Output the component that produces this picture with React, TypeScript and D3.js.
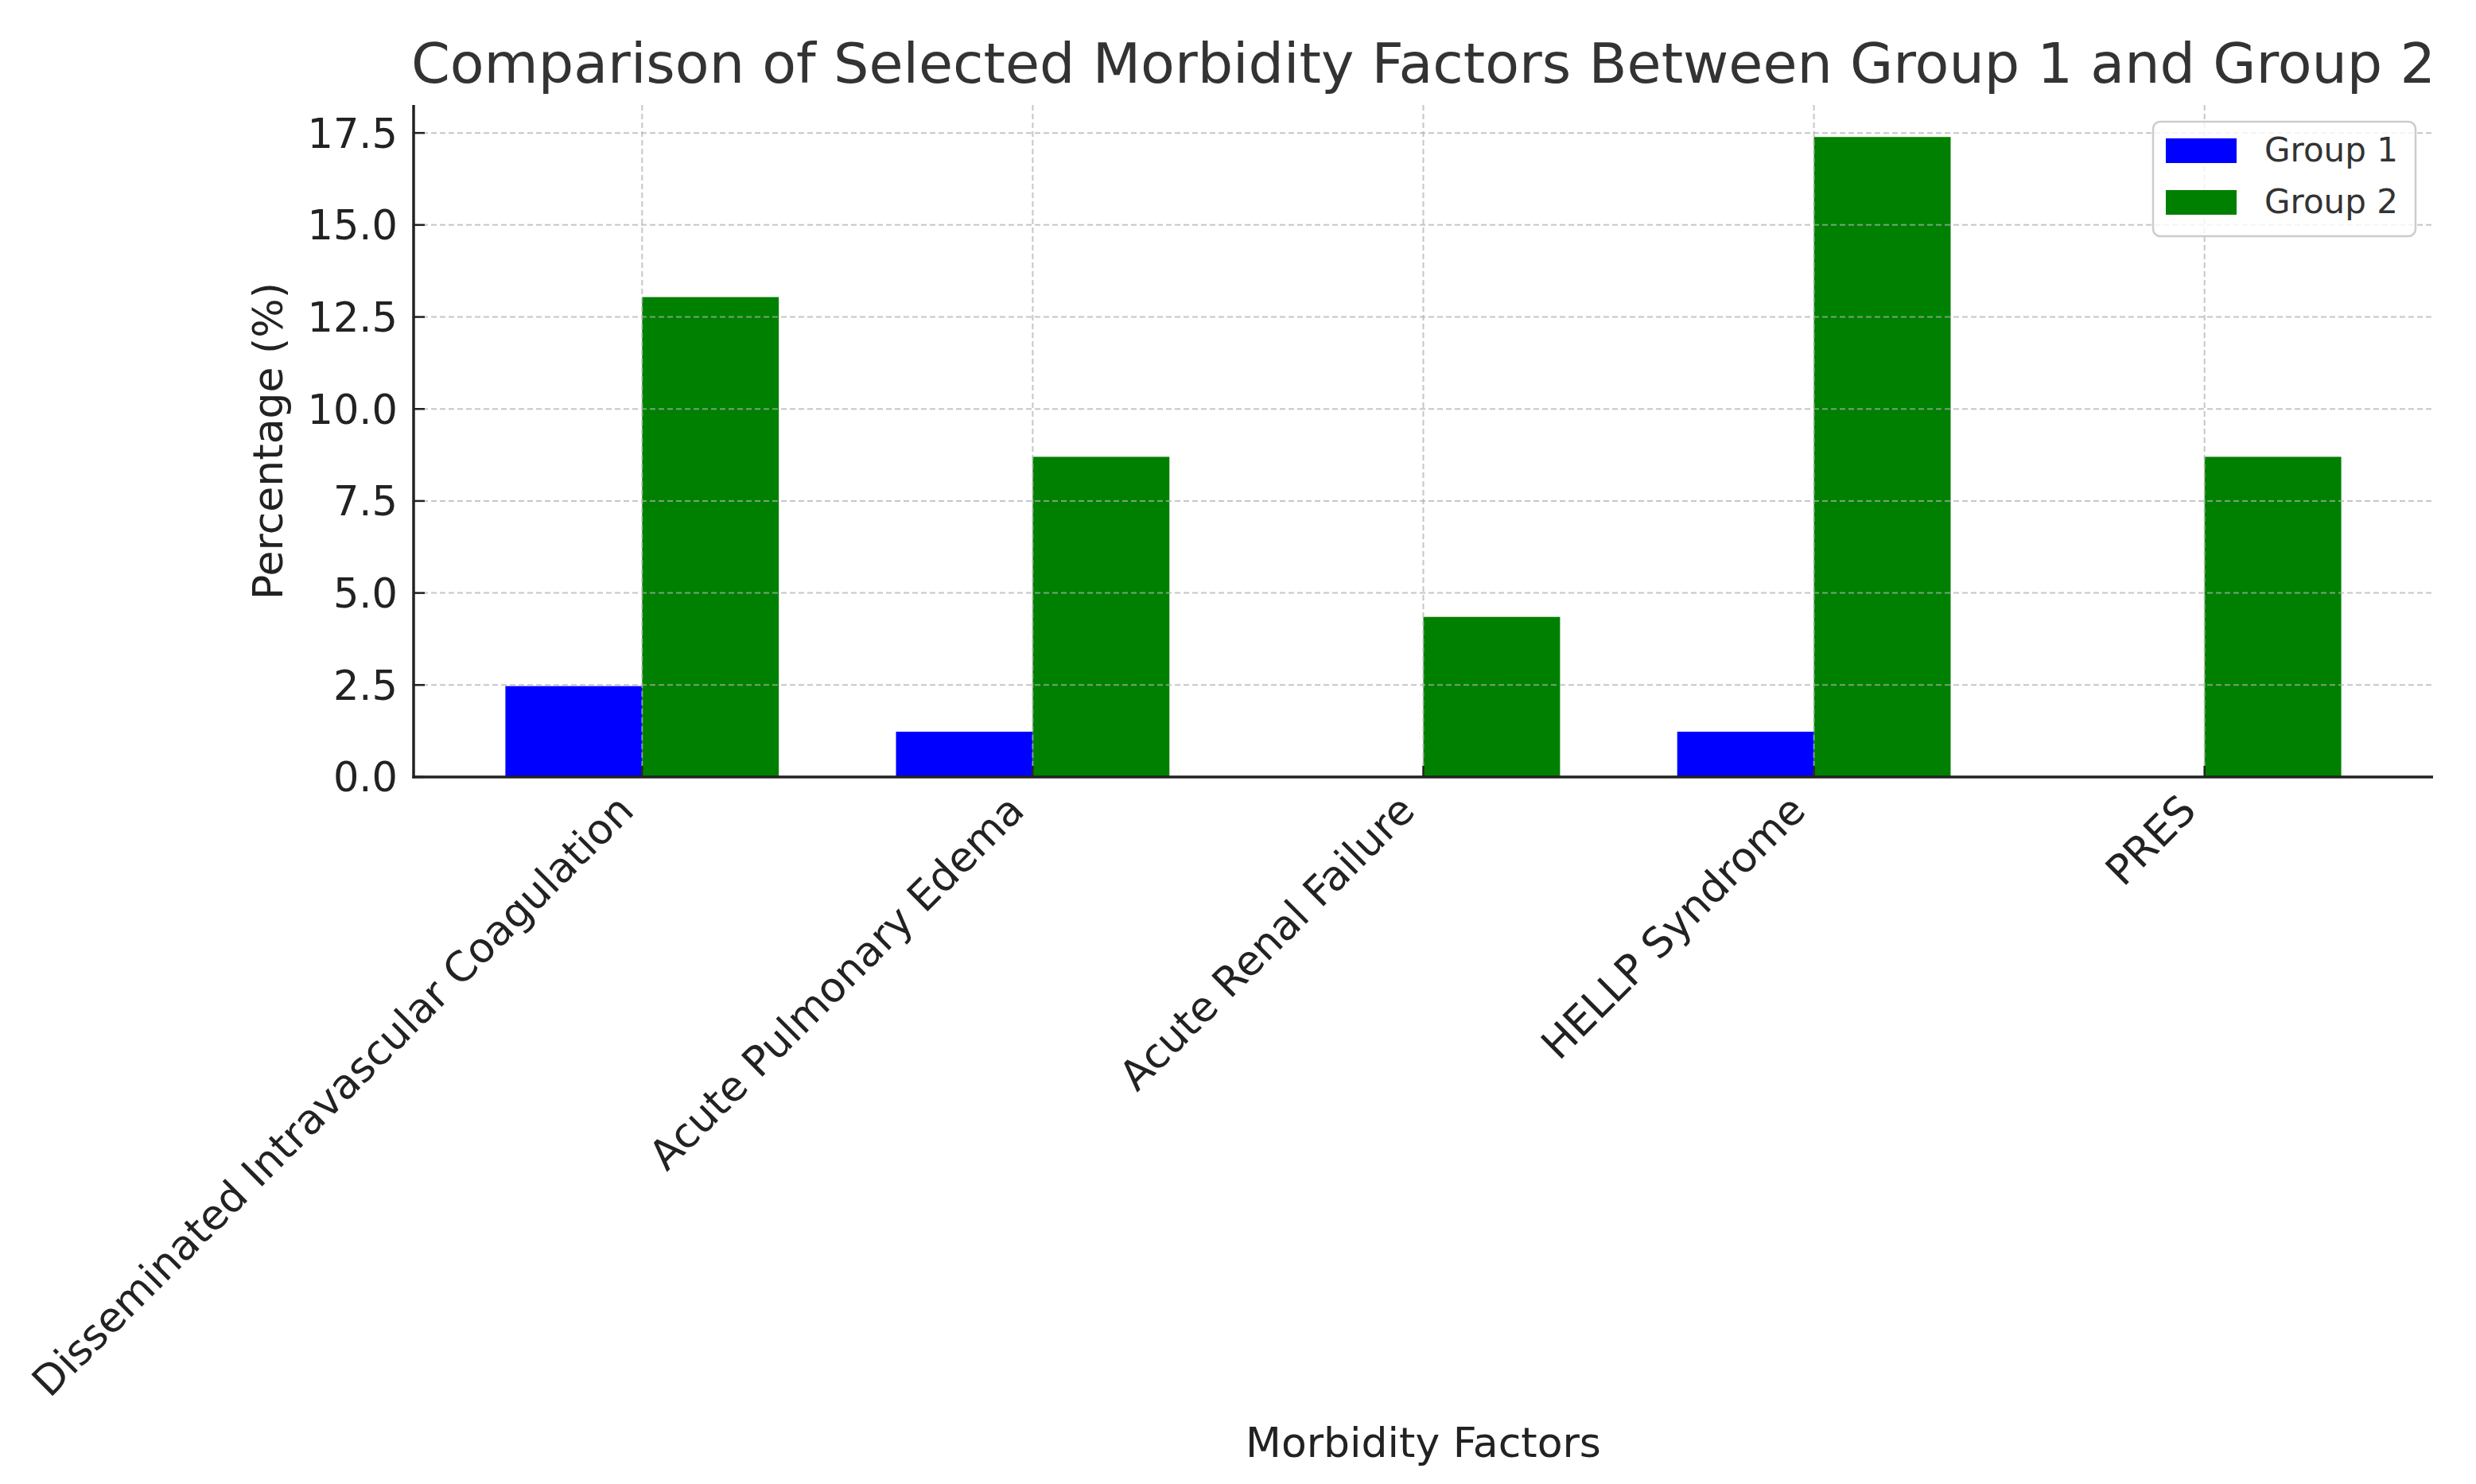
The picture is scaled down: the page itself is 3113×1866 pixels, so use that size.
import React, { useEffect } from "react";
import * as d3 from "d3";

const categories = [
  "Disseminated Intravascular Coagulation",
  "Acute Pulmonary Edema",
  "Acute Renal Failure",
  "HELLP Syndrome",
  "PRES",
];
const group1 = [2.47, 1.23, 0, 1.23, 0];
const group2 = [13.04, 8.7, 4.35, 17.39, 8.7];
const seriesNames = ["Group 1", "Group 2"];
const seriesColors = ["#0000ff", "#008000"];
const yTicks = [0, 2.5, 5, 7.5, 10, 12.5, 15, 17.5];

const W = 3113;
const H = 1866;
const L = 520;
const R = 3059;
const T = 132;
const B = 977;
const FONT = "'DejaVu Sans', sans-serif";

export default function App() {
  useEffect(() => {
    document.body.style.margin = "0";
  }, []);

  const barW = 0.35;
  const lo = -barW;
  const hi = categories.length - 1 + barW;
  const pad = (hi - lo) * 0.05;
  const x = d3.scaleLinear().domain([lo - pad, hi + pad]).range([L, R]);
  const ymax = d3.max([...group1, ...group2]) as number;
  const y = d3.scaleLinear().domain([0, ymax * 1.05]).range([B, T]);

  const series = [group1, group2];
  const gridStyle = {
    stroke: "#b0b0b0",
    strokeWidth: 2,
    strokeDasharray: "7,4",
    opacity: 0.7,
  };

  return (
    <svg
      width={W}
      height={H}
      style={{ display: "block", position: "absolute", left: 0, top: 0, background: "#fff" }}
      fontFamily={FONT}
    >
      <rect x={0} y={0} width={W} height={H} fill="#fff" />
      {/* bars */}
      {series.map((vals, si) =>
        vals.map((v, i) => {
          const x0 = si === 0 ? x(i - barW) : x(i);
          const x1 = si === 0 ? x(i) : x(i + barW);
          return (
            <rect
              key={`b${si}-${i}`}
              x={x0}
              y={y(v)}
              width={x1 - x0}
              height={B - y(v)}
              fill={seriesColors[si]}
            />
          );
        })
      )}
      {/* grid on top */}
      {yTicks.map((t) => (
        <line key={`gy${t}`} x1={L} x2={R} y1={y(t)} y2={y(t)} {...gridStyle} />
      ))}
      {categories.map((c, i) => (
        <line key={`gx${i}`} x1={x(i)} x2={x(i)} y1={T} y2={B} {...gridStyle} />
      ))}
      {/* spines */}
      <line x1={L} x2={L} y1={T} y2={B + 1.5} stroke="#222" strokeWidth={3.5} />
      <line x1={L - 1.5} x2={R} y1={B} y2={B} stroke="#222" strokeWidth={3.5} />
      {/* y ticks */}
      {yTicks.map((t) => (
        <g key={`yt${t}`}>
          <line x1={L} x2={L + 14} y1={y(t)} y2={y(t)} stroke="#222" strokeWidth={2.5} />
          <text
            x={500}
            y={y(t)}
            dy="0.36em"
            textAnchor="end"
            fontSize={51}
            fill="#222"
          >
            {t.toFixed(1)}
          </text>
        </g>
      ))}
      {/* x ticks */}
      {categories.map((c, i) => (
        <g key={`xt${i}`}>
          <line x1={x(i)} x2={x(i)} y1={B} y2={B - 14} stroke="#222" strokeWidth={2.5} />
          <text
            transform={`translate(${x(i) - 8},${B + 45}) rotate(-45)`}
            textAnchor="end"
            fontSize={52}
            fill="#222"
          >
            {c}
          </text>
        </g>
      ))}
      {/* axis labels */}
      <text
        x={(L + R) / 2}
        y={1832}
        textAnchor="middle"
        fontSize={52}
        fill="#222"
      >
        Morbidity Factors
      </text>
      <text
        transform={`translate(355,${(T + B) / 2}) rotate(-90)`}
        textAnchor="middle"
        fontSize={52}
        fill="#222"
      >
        Percentage (%)
      </text>
      {/* title */}
      <text
        x={(L + R) / 2}
        y={104}
        textAnchor="middle"
        fontSize={70}
        fill="#333"
      >
        Comparison of Selected Morbidity Factors Between Group 1 and Group 2
      </text>
      {/* legend */}
      <g>
        <rect
          x={2707}
          y={153}
          width={330}
          height={144}
          rx={9}
          fill="#fff"
          fillOpacity={0.8}
          stroke="#cccccc"
          strokeWidth={2.5}
        />
        {seriesNames.map((n, si) => (
          <g key={`lg${si}`}>
            <rect x={2723} y={174 + si * 65} width={89} height={31} fill={seriesColors[si]} />
            <text x={2847} y={203 + si * 65} fontSize={42} fill="#333">
              {n}
            </text>
          </g>
        ))}
      </g>
    </svg>
  );
}
